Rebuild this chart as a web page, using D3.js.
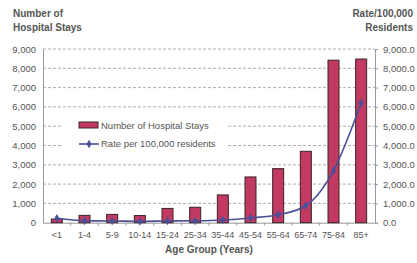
<!DOCTYPE html>
<html>
<head>
<meta charset="utf-8">
<script src="https://cdn.jsdelivr.net/npm/d3@7"></script>
<style>
  body { margin: 0; background: #fff; }
  text { font-family: "Liberation Sans", Arial, sans-serif; }
</style>
</head>
<body>
<div id="chart"></div>
<script>
const ageGroups = ["<1", "1-4", "5-9", "10-14", "15-24", "25-34", "35-44", "45-54", "55-64", "65-74", "75-84", "85+"];
const hospitalStays = [190, 380, 430, 370, 740, 800, 1440, 2370, 2800, 3700, 8420, 8480];
const ratePer100k = [230, 100, 90, 70, 90, 100, 140, 245, 415, 880, 2700, 6200];
const leftTicks = [0, 1000, 2000, 3000, 4000, 5000, 6000, 7000, 8000, 9000];

function drawChart(w = 417, h = 263) {
  const svg = d3.select("#chart").append("svg")
    .attr("width", w).attr("height", h);

  let margin = { top: 49, right: 42, bottom: 41, left: 43 };
  let x0 = margin.left, x1 = w - margin.right;
  let y0 = h - margin.bottom + 0.7, y1 = margin.top;

  let x = d3.scaleBand().domain(ageGroups).range([x0, x1]);
  let yL = d3.scaleLinear().domain([0, 9000]).range([y0, y1]);
  let yR = d3.scaleLinear().domain([0, 9000]).range([y0, y1]);

  const grey = "#555";

  // gridlines
  svg.append("g").selectAll("line")
    .data(leftTicks.filter(d => d > 0))
    .enter().append("line")
    .attr("x1", x0).attr("x2", x1)
    .attr("y1", d => yL(d)).attr("y2", d => yL(d))
    .style("stroke", "#999").style("stroke-dasharray", "3,2").style("stroke-width", 0.8);

  // left axis
  let gL = svg.append("g").attr("transform", `translate(${x0},0)`)
    .call(d3.axisLeft(yL).tickValues(leftTicks).tickFormat(d3.format(",")).tickSize(0).tickPadding(7));
  gL.select(".domain").style("stroke", "#999");
  gL.selectAll("text").style("font-size", "9.5px").style("fill", grey);

  // right axis
  let gR = svg.append("g").attr("transform", `translate(${x1},0)`)
    .call(d3.axisRight(yR).tickValues(leftTicks).tickFormat(d3.format(",.1f")).tickSize(3).tickPadding(5));
  gR.select(".domain").style("stroke", "#999");
  gR.selectAll("line").style("stroke", "#999");
  gR.selectAll("text").style("font-size", "9.5px").style("fill", grey);

  // x axis
  let gX = svg.append("g").attr("transform", `translate(0,${y0})`)
    .call(d3.axisBottom(x).tickSize(0).tickPadding(9));
  gX.select(".domain").style("stroke", "#999");
  gX.selectAll("text").style("font-size", "9px").style("fill", grey);
  // small ticks between categories
  svg.append("g").selectAll("line")
    .data(ageGroups.slice(1))
    .enter().append("line")
    .attr("x1", d => x(d)).attr("x2", d => x(d))
    .attr("y1", y0).attr("y2", y0 + 3)
    .style("stroke", "#999");

  // legend (white box hiding grid)
  let lg = svg.append("g");
  lg.append("rect").attr("x", 62).attr("y", 113).attr("width", 166).attr("height", 40).style("fill", "#fff");

  // bars
  let bw = 11;
  svg.append("g").selectAll("rect")
    .data(ageGroups)
    .enter().append("rect")
    .attr("x", d => x(d) + x.bandwidth() / 2 - bw / 2)
    .attr("width", bw)
    .attr("y", (d, i) => yL(hospitalStays[i]))
    .attr("height", (d, i) => y0 - yL(hospitalStays[i]))
    .style("fill", "#c23a62").style("stroke", "#3a2228").style("stroke-width", 1);

  // rate line
  let line = d3.line()
    .x((d, i) => x(ageGroups[i]) + x.bandwidth() / 2)
    .y(d => yR(d))
    .curve(d3.curveMonotoneX);
  svg.append("path").datum(ratePer100k)
    .attr("d", line)
    .style("fill", "none").style("stroke", "#4b4f98").style("stroke-width", 1.6);
  svg.append("g").selectAll("path")
    .data(ratePer100k)
    .enter().append("path")
    .attr("d", d3.symbol(d3.symbolDiamond, 22))
    .attr("transform", (d, i) => `translate(${x(ageGroups[i]) + x.bandwidth() / 2},${yR(d)})`)
    .style("fill", "#4b4f98");

  lg.append("rect").attr("x", 79).attr("y", 122).attr("width", 19).attr("height", 6)
    .style("fill", "#c23a62").style("stroke", "#3a2228");
  lg.append("text").attr("x", 101).attr("y", 129).text("Number of Hospital Stays")
    .style("font-size", "9.5px").style("fill", grey);
  lg.append("line").attr("x1", 79).attr("x2", 99).attr("y1", 144).attr("y2", 144)
    .style("stroke", "#4b4f98").style("stroke-width", 1.6);
  lg.append("path").attr("d", d3.symbol(d3.symbolDiamond, 22))
    .attr("transform", "translate(89,144)").style("fill", "#4b4f98");
  lg.append("text").attr("x", 101).attr("y", 147).text("Rate per 100,000 residents")
    .style("font-size", "9.5px").style("fill", grey);

  // titles
  svg.append("text").attr("x", 13).attr("y", 17).text("Number of")
    .style("font-size", "10px").style("font-weight", "bold").style("fill", grey);
  svg.append("text").attr("x", 13).attr("y", 31).text("Hospital Stays")
    .style("font-size", "10px").style("font-weight", "bold").style("fill", grey);
  svg.append("text").attr("x", 413).attr("y", 17).text("Rate/100,000")
    .style("font-size", "10px").style("font-weight", "bold").style("fill", grey).style("text-anchor", "end");
  svg.append("text").attr("x", 413).attr("y", 31).text("Residents")
    .style("font-size", "10px").style("font-weight", "bold").style("fill", grey).style("text-anchor", "end");

  svg.append("text").attr("x", (x0 + x1) / 2).attr("y", 253).text("Age Group (Years)")
    .style("font-size", "10px").style("font-weight", "bold").style("fill", grey).style("text-anchor", "middle");

  return svg.node();
}

drawChart();
</script>
</body>
</html>
